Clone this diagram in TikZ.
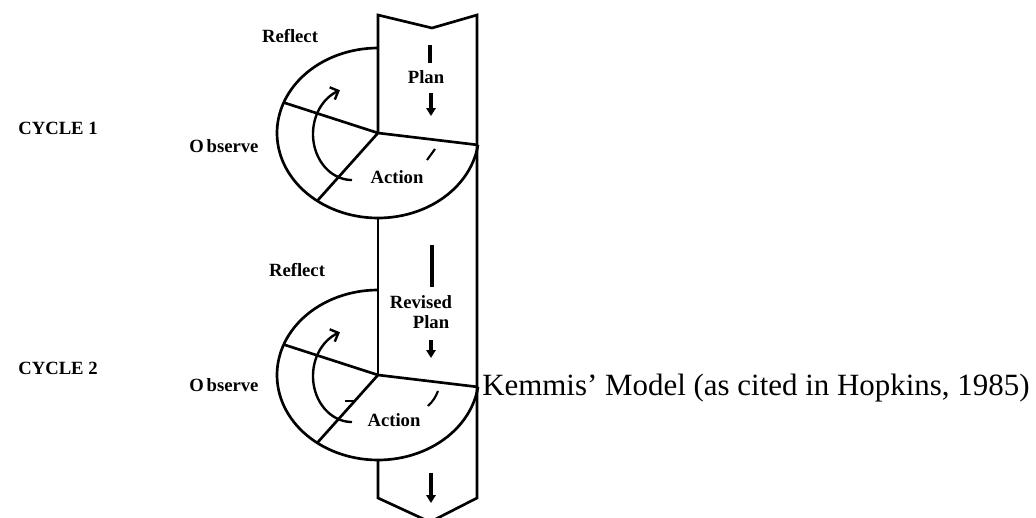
\documentclass[tikz,border=0pt]{standalone}
\usepackage{fontspec}
\setmainfont{Liberation Serif}
\usetikzlibrary{arrows.meta}
\begin{document}
\begin{tikzpicture}[x=0.75pt,y=-0.75pt,
  outline/.style={line width=2pt,line join=miter},
  lbl/.style={font=\fontsize{14}{16}\selectfont\bfseries,inner sep=0pt},
  flowdash/.style={line width=3.2pt},
  flowarrow/.style={line width=2.4pt,-{Triangle[length=6pt,width=7pt]}},
  turn/.style={line width=1.8pt,-{Straight Barb[length=5pt,width=10pt,line width=1.8pt]}},
  tick/.style={line width=1.6pt}
]
\useasboundingbox (0,0) rectangle (1036,518);

% the two cycles: outer ring split into Reflect / Observe / Action, inner turning arrow
\foreach \k/\dy in {1/0,2/242} {
  \coordinate (hub\k) at (378,133+\dy);
  \coordinate (top\k) at (378,48+\dy);
  \coordinate (bot\k) at (378,218+\dy);
  \coordinate (ul\k) at ({378+101*cos(201)},{133+\dy+85*sin(201)});
  \coordinate (ll\k) at ({378+101*cos(127)},{133+\dy+85*sin(127)});
  \coordinate (rt\k) at (477,{133+\dy+85*sin(8)});
  \draw[outline] plot[domain=8:270,samples=90] ({378+101*cos(\x)},{133+\dy+85*sin(\x)});
  \draw[outline] (ul\k) -- (hub\k) -- (rt\k);
  \draw[outline] (ll\k) -- (hub\k);
  \draw[turn] plot[domain=90:252,samples=60] ({352+39*cos(\x)},{134+\dy+46*sin(\x)});
}

% the vertical band with chevron ends
\coordinate (tl) at (378,15);
\coordinate (tm) at (432,28);
\coordinate (tr) at (477,15);
\coordinate (bl) at (378,498);
\coordinate (bm) at (430,522);
\coordinate (br) at (477,498);
\draw[outline] (hub1) -- (tl) -- (tm) -- (tr) -- (br) -- (bm) -- (bl) -- (bot2);
\draw[outline] (bot1) -- (hub2);

% flow marks inside the band
\coordinate (d1a) at (430,45);  \coordinate (d1b) at (430,63);
\coordinate (a1a) at (431,93);  \coordinate (a1b) at (431,116);
\coordinate (d2a) at (432,245); \coordinate (d2b) at (432,287);
\coordinate (a2a) at (431,340); \coordinate (a2b) at (431,358);
\coordinate (a3a) at (431,473); \coordinate (a3b) at (431,503);
\draw[flowdash] (d1a) -- (d1b);
\draw[flowarrow] (a1a) -- (a1b);
\draw[flowdash] (d2a) -- (d2b);
\draw[flowarrow] (a2a) -- (a2b);
\draw[flowarrow] (a3a) -- (a3b);

% small strokes in the Action sectors
\coordinate (t1a) at (427,160); \coordinate (t1b) at (435,149);
\coordinate (t2a) at (428,406); \coordinate (t2b) at (438,391);
\coordinate (s2a) at (345,401); \coordinate (s2b) at (355,401);
\draw[tick] (t1a) -- (t1b);
\draw[tick] (t2a) to[bend right=12] (t2b);
\draw[line width=1pt] (s2a) -- (s2b);

% labels
\node[lbl] (cyc1) at (58,128) {CYCLE 1};
\node[lbl] (cyc2) at (58,368) {CYCLE 2};
\node[lbl] (ref1) at (290,36) {Reflect};
\node[lbl] (ref2) at (297,270) {Reflect};
\node[lbl] (obs1) at (224,146) {O\kern2pt bserve};
\node[lbl] (obs2) at (224,385) {O\kern2pt bserve};
\node[lbl] (plan1) at (426,77) {Plan};
\node[lbl] (rev2) at (421,302) {Revised};
\node[lbl] (plan2) at (431,322) {Plan};
\node[lbl] (act1) at (397,177) {Action};
\node[lbl] (act2) at (394,420) {Action};
\node[anchor=base west,inner sep=0pt,font=\fontsize{23.2}{26}\selectfont] (cap) at (482,395)
  {Kemmis’ Model (as cited in Hopkins, 1985)};
\end{tikzpicture}
\end{document}
